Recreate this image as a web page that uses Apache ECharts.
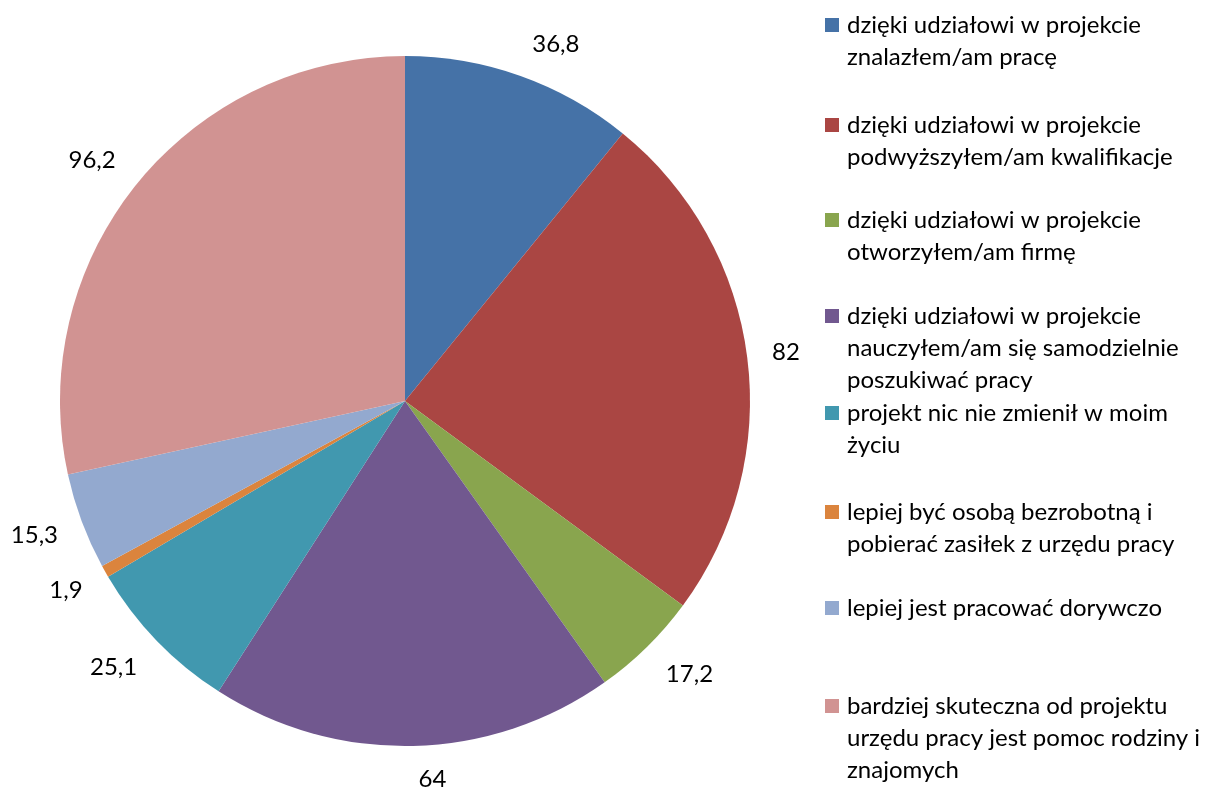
<!DOCTYPE html>
<html><head><meta charset="utf-8">
<script src="https://cdn.jsdelivr.net/npm/echarts@6/dist/echarts.min.js"></script>
<style>html,body{margin:0;padding:0;background:#fff}#c{width:1213px;height:787px}</style>
</head><body><div id="c"></div>
<script>
const categories = [
  'dzięki udziałowi w projekcie znalazłem/am pracę',
  'dzięki udziałowi w projekcie podwyższyłem/am kwalifikacje',
  'dzięki udziałowi w projekcie otworzyłem/am firmę',
  'dzięki udziałowi w projekcie nauczyłem/am się samodzielnie poszukiwać pracy',
  'projekt nic nie zmienił w moim życiu',
  'lepiej być osobą bezrobotną i pobierać zasiłek z urzędu pracy',
  'lepiej jest pracować dorywczo',
  'bardziej skuteczna od projektu urzędu pracy jest pomoc rodziny i znajomych'
];
const values = [36.8, 82, 17.2, 64, 25.1, 1.9, 15.3, 96.2];
const valueLabels = ['36,8', '82', '17,2', '64', '25,1', '1,9', '15,3', '96,2'];
const legendLines = [
  ['dzięki udziałowi w projekcie', 'znalazłem/am pracę'],
  ['dzięki udziałowi w projekcie', 'podwyższyłem/am kwalifikacje'],
  ['dzięki udziałowi w projekcie', 'otworzyłem/am firmę'],
  ['dzięki udziałowi w projekcie', 'nauczyłem/am się samodzielnie', 'poszukiwać pracy'],
  ['projekt nic nie zmienił w moim', 'życiu'],
  ['lepiej być osobą bezrobotną i', 'pobierać zasiłek z urzędu pracy'],
  ['lepiej jest pracować dorywczo'],
  ['bardziej skuteczna od projektu', 'urzędu pracy jest pomoc rodziny i', 'znajomych']
];
const colors = ['#4572A7', '#AA4643', '#89A54E', '#71588F', '#4198AF', '#DB843D', '#93A9CF', '#D19392'];
const legendCenters = [25, 125, 220, 316, 413, 512, 608, 706];

const FONT = 'Lato';
const FS = 24;
const LINE = 32;
const CX = 405, CY = 401;

const legends = categories.map((c, i) => ({
  data: [c],
  orient: 'vertical',
  left: 825,
  top: legendCenters[i] - 14,
  itemWidth: 14,
  itemHeight: 14,
  itemGap: 0,
  padding: 0,
  icon: 'rect',
  selectedMode: false,
  formatter: () => legendLines[i][0],
  textStyle: { fontFamily: FONT, fontSize: FS, color: '#000', lineHeight: 28, padding: [0, 0, 0, 3] }
}));

const graphics = [];
legendLines.forEach((lines, i) => {
  lines.slice(1).forEach((t, k) => {
    graphics.push({
      type: 'text',
      left: 847,
      top: legendCenters[i] + LINE * (k + 1) - 14,
      style: { text: t, font: FS + 'px "' + FONT + '"', fill: '#000', lineHeight: 28 }
    });
  });
});

const chart = echarts.init(document.getElementById('c'), null, { renderer: 'canvas' });
chart.setOption({
  animation: false,
  color: colors,
  legend: legends,
  graphic: graphics,
  series: [{
    type: 'pie',
    center: [CX, CY],
    radius: [0, 345],
    startAngle: 90,
    clockwise: true,
    avoidLabelOverlap: false,
    data: categories.map((c, i) => ({ name: c, value: values[i] })),
    label: {
      show: true,
      position: 'outside',
      formatter: p => valueLabels[p.dataIndex],
      fontFamily: FONT,
      fontSize: FS,
      lineHeight: 26,
      color: '#000'
    },
    labelLine: { show: false, length: 20, length2: 0 },
    labelLayout: p => {
      const r = p.labelRect;
      const lx = r.x + r.width / 2 - CX;
      const ly = r.y + r.height / 2 - CY;
      const ratio = ly / Math.sqrt(lx * lx + ly * ly);
      const f = Math.max(-1, Math.min(1, ratio * 1.5));
      return { dy: f * r.height / 2 };
    },
    itemStyle: { borderWidth: 0 },
    emphasis: { disabled: true }
  }]
});
</script></body></html>
